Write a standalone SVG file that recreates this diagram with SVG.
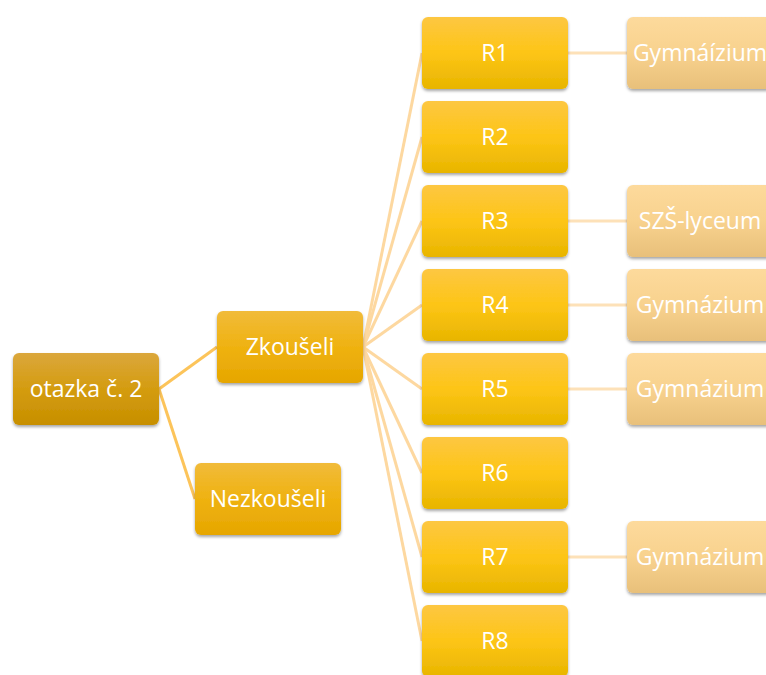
<svg xmlns="http://www.w3.org/2000/svg" width="766" height="675" viewBox="0 0 766 675">
<defs>
<linearGradient id="gRoot" x1="0" y1="0" x2="0" y2="1"><stop offset="0" stop-color="#dba73c"/><stop offset="0.5" stop-color="#d49c10"/><stop offset="1" stop-color="#c78f00"/></linearGradient>
<linearGradient id="gL1" x1="0" y1="0" x2="0" y2="1"><stop offset="0" stop-color="#f1bb3a"/><stop offset="0.5" stop-color="#efb211"/><stop offset="1" stop-color="#e6a600"/></linearGradient>
<linearGradient id="gR" x1="0" y1="0" x2="0" y2="1"><stop offset="0" stop-color="#fdc742"/><stop offset="0.5" stop-color="#fdc516"/><stop offset="1" stop-color="#e8b500"/></linearGradient>
<linearGradient id="gS" x1="0" y1="0" x2="0" y2="1"><stop offset="0" stop-color="#fdda9c"/><stop offset="0.5" stop-color="#f8d28e"/><stop offset="1" stop-color="#e8c07a"/></linearGradient>
<filter id="sh" x="-10%" y="-10%" width="125%" height="135%"><feDropShadow dx="0" dy="2" stdDeviation="1.6" flood-color="#000" flood-opacity="0.35"/></filter>
</defs>
<style>
text{font-family:"Open Sans","Liberation Sans",sans-serif;font-size:23px;fill:#fff;text-anchor:middle;dominant-baseline:central}
.c1{stroke:#fcc45a;stroke-width:3;fill:none}
.c2{stroke:#fdd8a0;stroke-width:3;fill:none}
.c3{stroke:#fde1b8;stroke-width:3;fill:none}
rect{filter:url(#sh)}
</style>
<g id="connectors">
<line class="c1" x1="159" y1="389" x2="217" y2="347"/>
<line class="c1" x1="159" y1="389" x2="195" y2="499"/>
<line class="c2" x1="363" y1="347" x2="422" y2="53"/>
<line class="c2" x1="363" y1="347" x2="422" y2="137"/>
<line class="c2" x1="363" y1="347" x2="422" y2="221"/>
<line class="c2" x1="363" y1="347" x2="422" y2="305"/>
<line class="c2" x1="363" y1="347" x2="422" y2="389"/>
<line class="c2" x1="363" y1="347" x2="422" y2="473"/>
<line class="c2" x1="363" y1="347" x2="422" y2="557"/>
<line class="c2" x1="363" y1="347" x2="422" y2="641"/>
<line class="c3" x1="568" y1="53" x2="627" y2="53"/>
<line class="c3" x1="568" y1="221" x2="627" y2="221"/>
<line class="c3" x1="568" y1="305" x2="627" y2="305"/>
<line class="c3" x1="568" y1="389" x2="627" y2="389"/>
<line class="c3" x1="568" y1="557" x2="627" y2="557"/>
</g>
<g id="root"><rect x="13" y="353" width="146" height="72" rx="6" fill="url(#gRoot)"/><text x="86" y="388">otazka č. 2</text></g>
<g id="zkouseli"><rect x="217" y="311" width="146" height="72" rx="6" fill="url(#gL1)"/><text x="290" y="346">Zkoušeli</text></g>
<g id="nezkouseli"><rect x="195" y="463" width="146" height="72" rx="6" fill="url(#gL1)"/><text x="268" y="498">Nezkoušeli</text></g>
<g id="r1"><rect x="422" y="17" width="146" height="72" rx="6" fill="url(#gR)"/><text x="495" y="52">R1</text></g>
<g id="r2"><rect x="422" y="101" width="146" height="72" rx="6" fill="url(#gR)"/><text x="495" y="136">R2</text></g>
<g id="r3"><rect x="422" y="185" width="146" height="72" rx="6" fill="url(#gR)"/><text x="495" y="220">R3</text></g>
<g id="r4"><rect x="422" y="269" width="146" height="72" rx="6" fill="url(#gR)"/><text x="495" y="304">R4</text></g>
<g id="r5"><rect x="422" y="353" width="146" height="72" rx="6" fill="url(#gR)"/><text x="495" y="388">R5</text></g>
<g id="r6"><rect x="422" y="437" width="146" height="72" rx="6" fill="url(#gR)"/><text x="495" y="472">R6</text></g>
<g id="r7"><rect x="422" y="521" width="146" height="72" rx="6" fill="url(#gR)"/><text x="495" y="556">R7</text></g>
<g id="r8"><rect x="422" y="605" width="146" height="72" rx="6" fill="url(#gR)"/><text x="495" y="640">R8</text></g>
<g id="s1"><rect x="627" y="17" width="146" height="72" rx="6" fill="url(#gS)"/><text x="700" y="52">Gymnáízium</text></g>
<g id="s3"><rect x="627" y="185" width="146" height="72" rx="6" fill="url(#gS)"/><text x="700" y="220">SZŠ-lyceum</text></g>
<g id="s4"><rect x="627" y="269" width="146" height="72" rx="6" fill="url(#gS)"/><text x="700" y="304">Gymnázium</text></g>
<g id="s5"><rect x="627" y="353" width="146" height="72" rx="6" fill="url(#gS)"/><text x="700" y="388">Gymnázium</text></g>
<g id="s7"><rect x="627" y="521" width="146" height="72" rx="6" fill="url(#gS)"/><text x="700" y="556">Gymnázium</text></g>
</svg>
